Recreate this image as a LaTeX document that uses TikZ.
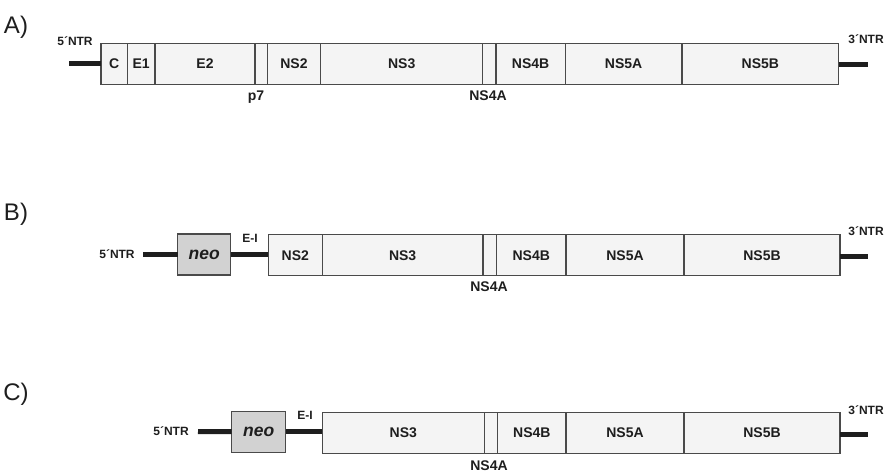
\documentclass[tikz,border=0pt]{standalone}
\usepackage{fontspec}
\setmainfont{Liberation Sans}
\definecolor{segfill}{HTML}{F4F4F4}
\definecolor{segline}{HTML}{4A4A4A}
\definecolor{neofill}{HTML}{D2D2D2}
\definecolor{ink}{HTML}{1E1E1E}
% name, left x, right x, centre y, text
\newcommand\gseg[5]{\node[seg, minimum width={#3pt-#2pt}, anchor=west] (#1) at (#2,#4) {#5};}
\begin{document}
\begin{tikzpicture}[x=1pt,y=-1pt,
  seg/.style={draw=segline, fill=segfill, line width=1.2pt, inner sep=0pt, outer sep=0pt,
    minimum height=41pt, font=\fontsize{14}{16}\selectfont\bfseries, text=ink},
  neobox/.style={seg, fill=neofill, font=\fontsize{17.5}{20}\selectfont\bfseries\itshape},
  ntr/.style={line width=5pt, draw=ink},
  lab/.style={font=\fontsize{12}{14}\selectfont\bfseries, inner sep=0pt, text=ink},
  sub/.style={font=\fontsize{14}{16}\selectfont\bfseries, inner sep=0pt, text=ink},
  panel/.style={font=\fontsize{24}{28}\selectfont, inner sep=0pt, text=ink}]
\useasboundingbox (0,0) rectangle (891,474);

% ---------------- A ----------------
\node[panel] (pA) at (16,27) {A)};
\gseg{aC}{101}{127.3}{64}{C}
\gseg{aE1}{127.3}{155}{64}{E1}
\gseg{aE2}{155}{255}{64}{E2}
\gseg{ap7}{255}{267.3}{64}{}
\gseg{aNS2}{267.3}{320.7}{64}{NS2}
\gseg{aNS3}{320.7}{482.7}{64}{NS3}
\gseg{aNS4A}{482.7}{496}{64}{}
\gseg{aNS4B}{496}{565.3}{64}{NS4B}
\gseg{aNS5A}{565.3}{682}{64}{NS5A}
\gseg{aNS5B}{682}{838.7}{64}{NS5B}
\coordinate (a5) at (69,63);
\coordinate (a3) at (868,64);
\draw[ntr] (a5) -- (a5 -| aC.west);
\draw[ntr] (a3 -| aNS5B.east) -- (a3);
\node[lab] (a5l) at (75,41) {5´NTR};
\node[lab] (a3l) at (866,39) {3´NTR};
\node[sub] (ap7l) at (256,97) {p7};
\node[sub] (aNS4Al) at (488,96) {NS4A};

% ---------------- B ----------------
\node[panel] (pB) at (16,214) {B)};
\node[neobox, minimum width=53pt, anchor=west] (bneo) at (177.7,254.5) {neo};
\gseg{bNS2}{268.3}{322.3}{255.3}{NS2}
\gseg{bNS3}{322.3}{483}{255.3}{NS3}
\gseg{bNS4A}{483}{496.5}{255.3}{}
\gseg{bNS4B}{496.5}{566}{255.3}{NS4B}
\gseg{bNS5A}{566}{684}{255.3}{NS5A}
\gseg{bNS5B}{684}{840}{255.3}{NS5B}
\coordinate (b5) at (143,254.5);
\coordinate (b3) at (868,256);
\draw[ntr] (b5) -- (bneo.west);
\draw[ntr] (bneo.east) -- (bneo.east -| bNS2.west);
\draw[ntr] (b3 -| bNS5B.east) -- (b3);
\node[lab] (b5l) at (117,254) {5´NTR};
\node[lab] (b3l) at (866,231) {3´NTR};
\node[lab] (bEI) at (250,238) {E-I};
\node[sub] (bNS4Al) at (489,287) {NS4A};

% ---------------- C ----------------
\node[panel] (pC) at (16,394) {C)};
\node[neobox, minimum width=54pt, anchor=west] (cneo) at (231.7,431.7) {neo};
\gseg{cNS3}{322.3}{484.3}{433}{NS3}
\gseg{cNS4A}{484.3}{497.7}{433}{}
\gseg{cNS4B}{497.7}{566}{433}{NS4B}
\gseg{cNS5A}{566}{684}{433}{NS5A}
\gseg{cNS5B}{684}{840}{433}{NS5B}
\coordinate (c5) at (198,431.5);
\coordinate (c3) at (868,434);
\draw[ntr] (c5) -- (cneo.west);
\draw[ntr] (cneo.east) -- (cneo.east -| cNS3.west);
\draw[ntr] (c3 -| cNS5B.east) -- (c3);
\node[lab] (c5l) at (171,431) {5´NTR};
\node[lab] (c3l) at (866,410) {3´NTR};
\node[lab] (cEI) at (305,415) {E-I};
\node[sub] (cNS4Al) at (489,466) {NS4A};
\end{tikzpicture}
\end{document}
